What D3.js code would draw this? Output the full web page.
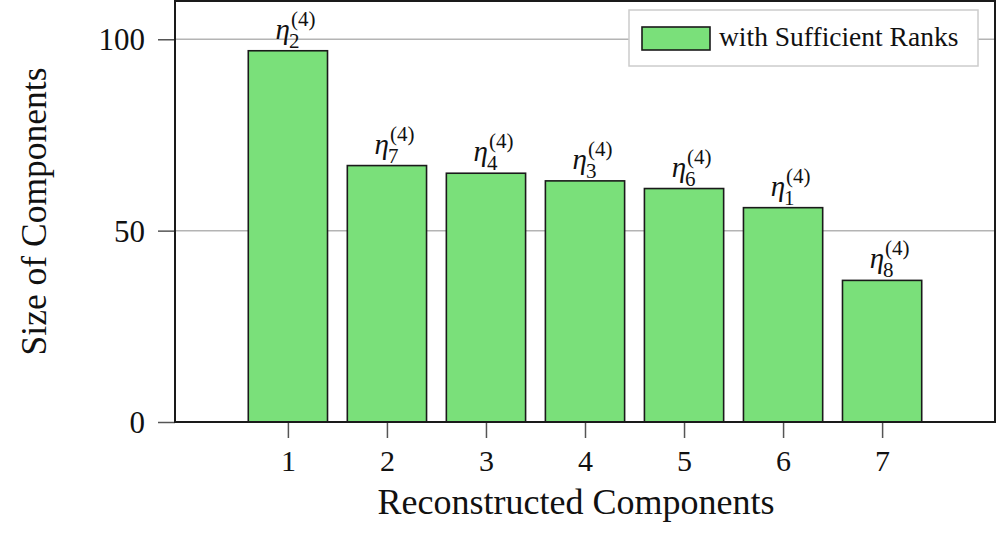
<!DOCTYPE html>
<html>
<head>
<meta charset="utf-8">
<script src="https://cdn.jsdelivr.net/npm/d3@7"></script>
<style>
  body { margin: 0; background: #fff; }
  text { font-family: "Liberation Serif", "DejaVu Serif", serif; fill: #111; }
</style>
</head>
<body>
<div class="container"></div>
<script>
  // chart data
  var positions = [1, 2, 3, 4, 5, 6, 7];
  var sizes = [97, 67, 65, 63, 61, 56, 37];
  var etaIndex = ["2", "7", "4", "3", "6", "1", "8"];
  var yTicks = [0, 50, 100];
  var legendLabel = "with Sufficient Ranks";

  // frame
  var w = 996, h = 539;
  var margin = {left: 175, right: 1, top: 1, bottom: 117};
  var svg = d3.select(".container").append("svg").attr("width", w).attr("height", h);

  var x = d3.scaleLinear().domain([1 - 1.14, 7 + 1.14]).range([margin.left, w - margin.right]);
  var y = d3.scaleLinear().domain([0, 110]).range([h - margin.bottom, margin.top]);
  var barW = (x(2) - x(1)) * 0.8;

  // grid lines
  svg.append("g").selectAll("line").data(yTicks.filter(function(d){ return d > 0; }))
    .enter().append("line")
    .attr("x1", x.range()[0]).attr("x2", x.range()[1])
    .attr("y1", function(d){ return y(d); }).attr("y2", function(d){ return y(d); })
    .attr("stroke", "#b4b4b4").attr("stroke-width", 1.5);

  // y axis ticks + labels
  var yAxis = svg.append("g").attr("transform", "translate(" + margin.left + ",0)")
    .call(d3.axisLeft(y).tickValues(yTicks).tickSize(17).tickPadding(13));
  yAxis.select(".domain").remove();
  yAxis.selectAll(".tick line").attr("stroke", "#555").attr("stroke-width", 1.5);
  yAxis.selectAll(".tick text").style("font-size", "31px").attr("dy", "0.34em")
    .style("font-family", "Liberation Serif").attr("fill", "#111");

  // x axis ticks + labels
  var xAxis = svg.append("g").attr("transform", "translate(0," + y(0) + ")")
    .call(d3.axisBottom(x).tickValues(positions).tickFormat(d3.format("d")).tickSize(16).tickPadding(12));
  xAxis.select(".domain").remove();
  xAxis.selectAll(".tick line").attr("stroke", "#555").attr("stroke-width", 1.5);
  xAxis.selectAll(".tick text").style("font-size", "30px")
    .style("font-family", "Liberation Serif").attr("fill", "#111");

  // bars
  svg.append("g").selectAll("rect").data(sizes).enter().append("rect")
    .attr("x", function(d, i){ return x(positions[i]) - barW / 2; })
    .attr("y", function(d){ return y(d); })
    .attr("width", barW)
    .attr("height", function(d){ return y(0) - y(d); })
    .attr("fill", "#7ae07a").attr("stroke", "#1a1a1a").attr("stroke-width", 1.6);

  // bar labels eta_i^(4)
  var lab = svg.append("g").selectAll("g").data(sizes).enter().append("g")
    .attr("transform", function(d, i){ return "translate(" + x(positions[i]) + "," + y(d) + ")"; });
  lab.append("text").attr("x", 2).attr("y", -12).attr("text-anchor", "end")
    .style("font-style", "italic").style("font-size", "29px").text("η");
  lab.append("text").attr("x", 1).attr("y", -3)
    .style("font-size", "21px").text(function(d, i){ return etaIndex[i]; });
  lab.append("text").attr("x", 3).attr("y", -25)
    .style("font-size", "21px").text("(4)");

  // frame box
  svg.append("rect")
    .attr("x", x.range()[0]).attr("y", y.range()[1])
    .attr("width", x.range()[1] - x.range()[0]).attr("height", y.range()[0] - y.range()[1])
    .attr("fill", "none").attr("stroke", "#1a1a1a").attr("stroke-width", 2);

  // legend
  var lg = svg.append("g");
  lg.append("rect").attr("x", 629).attr("y", 10).attr("width", 349).attr("height", 56)
    .attr("fill", "#fff").attr("stroke", "#cccccc").attr("stroke-width", 1.5);
  lg.append("rect").attr("x", 642).attr("y", 27).attr("width", 68).attr("height", 23)
    .attr("fill", "#7ae07a").attr("stroke", "#1a1a1a").attr("stroke-width", 1.6);
  lg.append("text").attr("x", 719).attr("y", 46).style("font-size", "27.5px").text(legendLabel);

  // axis titles
  svg.append("text").attr("x", (x.range()[0] + x.range()[1]) / 2 - 9).attr("y", 514)
    .attr("text-anchor", "middle").style("font-size", "36px").text("Reconstructed Components");
  svg.append("text").attr("transform", "translate(46," + ((y.range()[0] + y.range()[1]) / 2) + ") rotate(-90)")
    .attr("text-anchor", "middle").style("font-size", "35.5px").text("Size of Components");
</script>
</body>
</html>
